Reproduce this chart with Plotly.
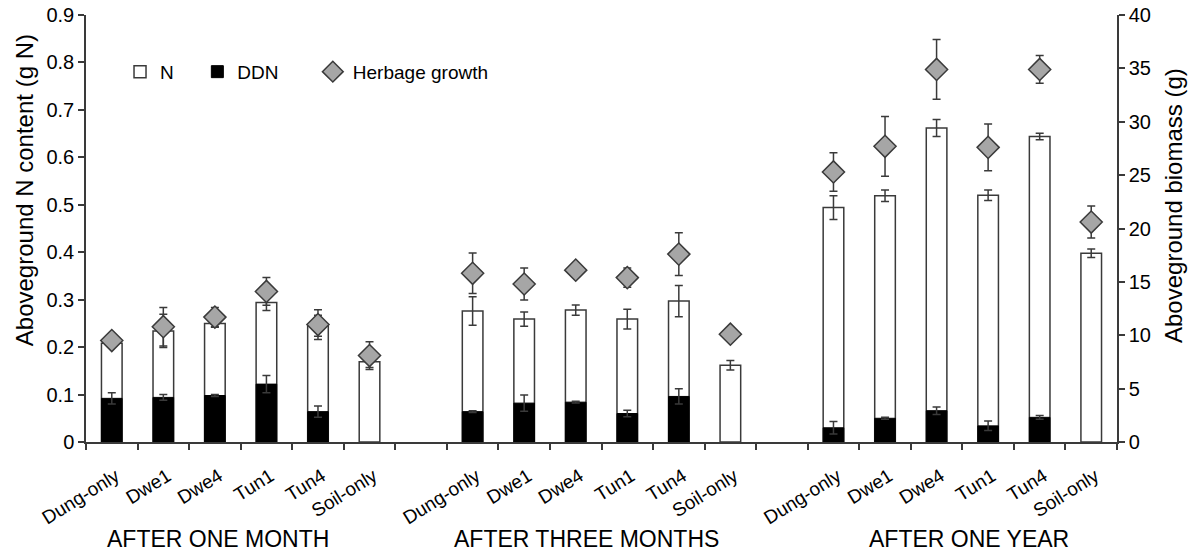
import plotly.graph_objects as go

# ---------------- data ----------------
periods = ["AFTER ONE MONTH", "AFTER THREE MONTHS", "AFTER ONE YEAR"]
treatments = ["Dung-only", "Dwe1", "Dwe4", "Tun1", "Tun4", "Soil-only"]

# total aboveground N (g N) per period, per treatment
n_month1 = [0.208, 0.234, 0.250, 0.294, 0.245, 0.169]
n_month3 = [0.276, 0.259, 0.278, 0.259, 0.297, 0.162]
n_year1 = [0.494, 0.519, 0.662, 0.520, 0.644, 0.398]
n_err_month1 = [0.0, 0.035, 0.008, 0.017, 0.022, 0.012]
n_err_month3 = [0.030, 0.015, 0.011, 0.021, 0.033, 0.010]
n_err_year1 = [0.025, 0.012, 0.018, 0.011, 0.007, 0.009]

# dung-derived N (g N)
ddn_month1 = [0.092, 0.094, 0.098, 0.122, 0.064, None]
ddn_month3 = [0.064, 0.082, 0.084, 0.060, 0.096, None]
ddn_year1 = [0.030, 0.050, 0.066, 0.034, 0.052, None]
ddn_err_month1 = [0.012, 0.006, 0.002, 0.018, 0.012, 0.0]
ddn_err_month3 = [0.002, 0.017, 0.002, 0.007, 0.016, 0.0]
ddn_err_year1 = [0.013, 0.002, 0.008, 0.010, 0.004, 0.0]

# herbage growth, aboveground biomass (g)
herb_month1 = [9.5, 10.8, 11.7, 14.1, 11.0, 8.1]
herb_month3 = [15.8, 14.8, 16.1, 15.4, 17.6, 10.1]
herb_year1 = [25.3, 27.7, 34.9, 27.6, 34.9, 20.6]
herb_err_month1 = [0.0, 1.8, 0.9, 1.3, 1.4, 1.3]
herb_err_month3 = [1.9, 1.5, 0.0, 0.9, 2.0, 0.0]
herb_err_year1 = [1.8, 2.8, 2.8, 2.2, 1.3, 1.5]

left_ticks = [0, 0.1, 0.2, 0.3, 0.4, 0.5, 0.6, 0.7, 0.8, 0.9]
right_ticks = [0, 5, 10, 15, 20, 25, 30, 35, 40]

left_title = "Aboveground N content (g N)"
right_title = "Aboveground biomass (g)"

# ---------------- build category axis ----------------
n_all = [n_month1, n_month3, n_year1]
n_err_all = [n_err_month1, n_err_month3, n_err_year1]
ddn_all = [ddn_month1, ddn_month3, ddn_year1]
ddn_err_all = [ddn_err_month1, ddn_err_month3, ddn_err_year1]
herb_all = [herb_month1, herb_month3, herb_year1]
herb_err_all = [herb_err_month1, herb_err_month3, herb_err_year1]

cats, labels = [], []
xs, n_y, n_e, d_y, d_e, h_y, h_e = [], [], [], [], [], [], []
for gi, p in enumerate(periods):
    for ti, t in enumerate(treatments):
        cid = f"{p}|{t}"
        cats.append(cid)
        labels.append(t)
        xs.append(cid)
        n_y.append(n_all[gi][ti]); n_e.append(n_err_all[gi][ti])
        d_y.append(ddn_all[gi][ti]); d_e.append(ddn_err_all[gi][ti])
        h_y.append(herb_all[gi][ti]); h_e.append(herb_err_all[gi][ti])
    if gi < len(periods) - 1:
        cats.append(f"gap{gi}")
        labels.append("")

# include the gap categories so that they take up space on the axis
n_full = [n_y[xs.index(c)] if c in xs else None for c in cats]
n_err_full = [n_e[xs.index(c)] if c in xs else 0 for c in cats]

FONT = "Liberation Sans, Arial, Helvetica, sans-serif"
AX = "#3a3a3a"
ebar = dict(type="data", thickness=1.5, width=4, color=AX)
legfont = dict(family=FONT, size=19, color="black")

fig = go.Figure()
fig.add_trace(go.Bar(
    name="N", x=cats, y=n_full, legend="legend",
    marker=dict(color="white", line=dict(color=AX, width=1.5)),
    error_y=dict(array=n_err_full, **ebar),
))
fig.add_trace(go.Bar(
    name="DDN", x=xs, y=d_y, legend="legend2",
    marker=dict(color="black", line=dict(color="black", width=1)),
    error_y=dict(array=d_e, **ebar),
))
fig.add_trace(go.Scatter(
    name="Herbage growth", x=xs, y=h_y, yaxis="y2", mode="markers",
    legend="legend3",
    marker=dict(symbol="diamond", size=17, color="#a6a6a6",
                line=dict(color=AX, width=1.5)),
    error_y=dict(array=h_e, **ebar),
))

for i, p in enumerate(periods):
    fig.add_annotation(text=p, xref="paper", yref="paper",
                       x=[0.128, 0.4855, 0.8565][i], y=-0.227,
                       xanchor="center", yanchor="middle", showarrow=False,
                       font=dict(family=FONT, size=23, color="black"))

fig.add_annotation(text=left_title, xref="paper", yref="paper",
                   x=-0.060, y=0.590, textangle=-90, showarrow=False,
                   xanchor="center", yanchor="middle",
                   font=dict(family=FONT, size=24, color="black"))
fig.add_annotation(text=right_title, xref="paper", yref="paper",
                   x=1.0553, y=0.5527, textangle=-90, showarrow=False,
                   xanchor="center", yanchor="middle",
                   font=dict(family=FONT, size=24, color="black"))

legbase = dict(orientation="h", y=0.867, xanchor="left", yanchor="middle",
               bgcolor="rgba(0,0,0,0)", borderwidth=0, font=legfont)

fig.update_layout(
    width=1193, height=554,
    margin=dict(l=86, r=76, t=15, b=112),
    paper_bgcolor="white", plot_bgcolor="white",
    barmode="overlay", bargap=0.6,
    font=dict(family=FONT, size=19, color="black"),
    showlegend=True,
    legend=dict(x=0.033, **legbase),
    legend2=dict(x=0.108, **legbase),
    legend3=dict(x=0.220, **legbase),
    xaxis=dict(type="category", categoryorder="array", categoryarray=cats,
               tickmode="array", tickvals=cats, ticktext=labels,
               tickson="boundaries", ticks="outside", ticklen=6,
               tickcolor=AX, tickwidth=1.5, tickangle=-32,
               ticklabelstandoff=14, ticklabelshift=4,
               showline=True, linecolor=AX, linewidth=1.5,
               showgrid=False, zeroline=False, automargin=False,
               range=[-0.5, len(cats) - 0.5],
               tickfont=dict(family=FONT, size=19)),
    yaxis=dict(range=[0, 0.9], tickmode="array", tickvals=left_ticks,
               ticktext=[f"{v:g}" for v in left_ticks],
               ticks="outside", ticklen=6, tickcolor=AX, tickwidth=1.5,
               showline=True, linecolor=AX, linewidth=1.5,
               showgrid=False, zeroline=False, automargin=False,
               tickfont=dict(family=FONT, size=20)),
    yaxis2=dict(range=[0, 40], overlaying="y", side="right",
                tickmode="array", tickvals=right_ticks,
                ticks="outside", ticklen=6, tickcolor=AX, tickwidth=1.5,
                showline=True, linecolor=AX, linewidth=1.5,
                showgrid=False, zeroline=False, automargin=False,
                tickfont=dict(family=FONT, size=20)),
)

fig.write_html("out.html",
               config={"displayModeBar": False},
               post_script="document.body.style.margin='0';"
                           "document.body.style.overflow='hidden';")
